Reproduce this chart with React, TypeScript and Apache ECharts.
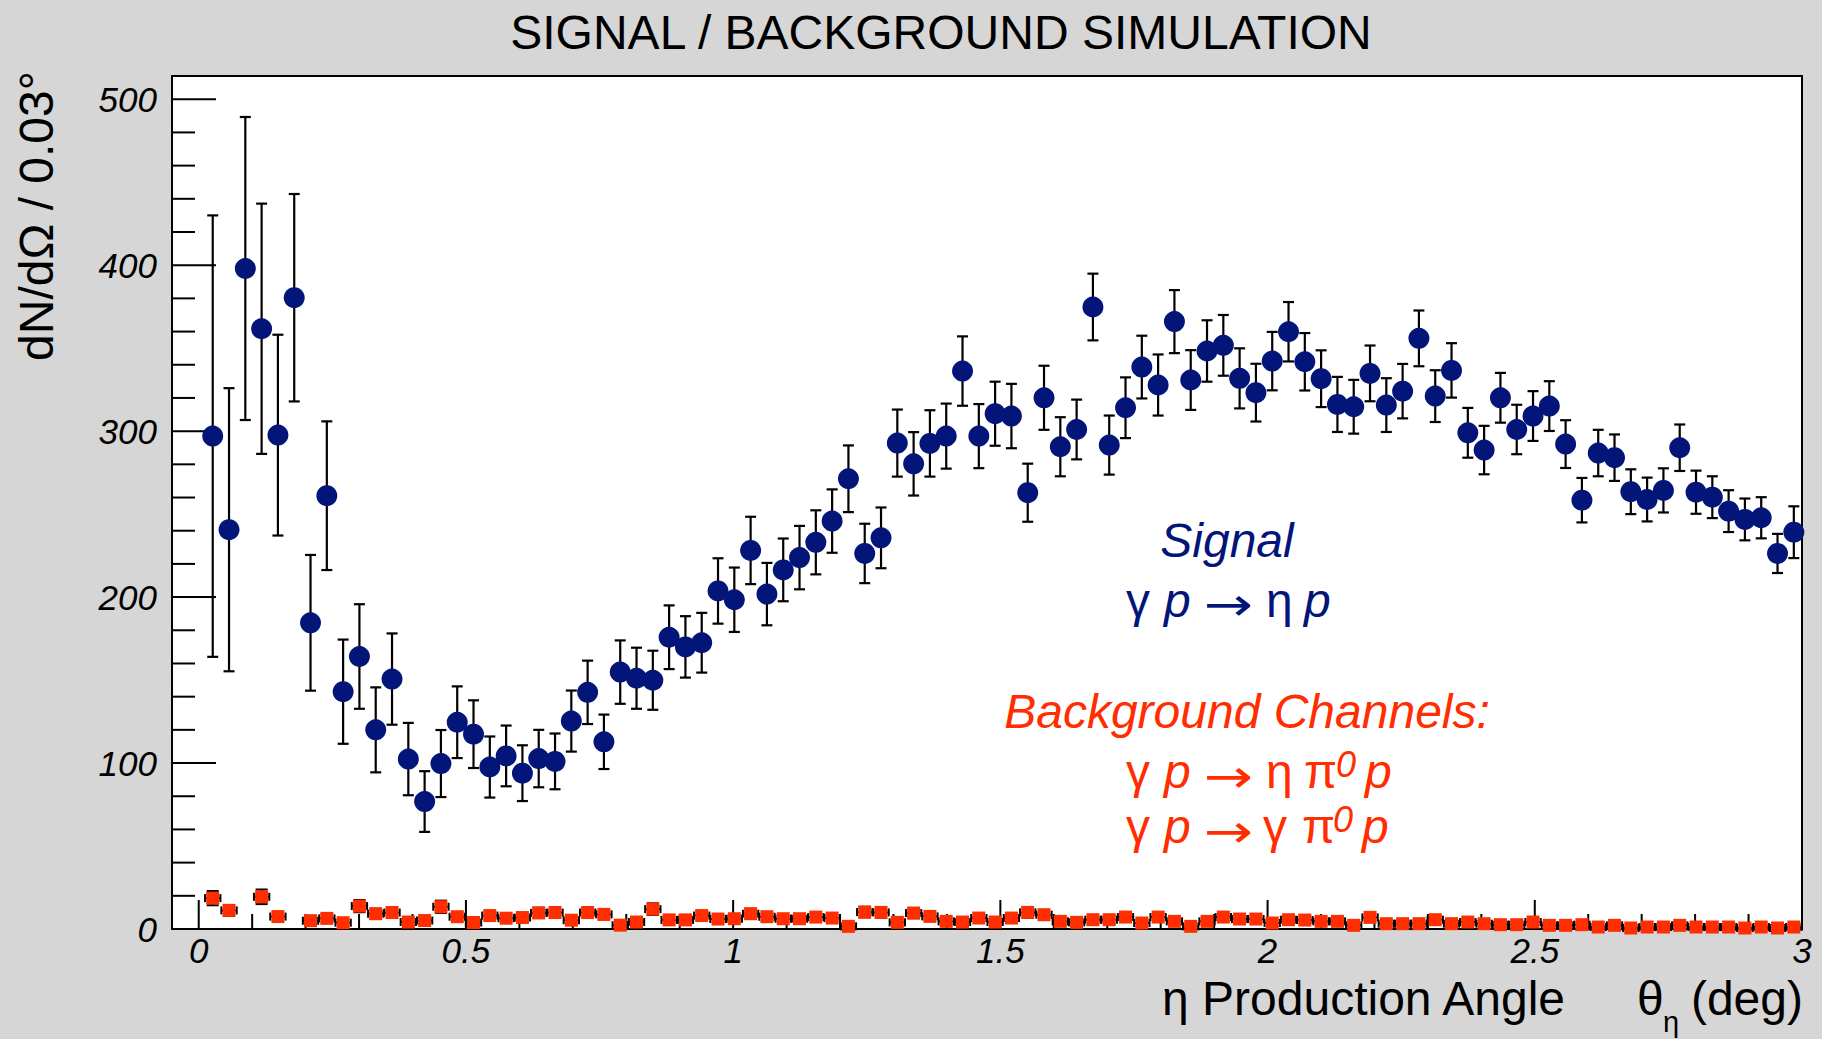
import React, { useEffect, useRef } from "react";
import * as echarts from "echarts";

// ---- axis ranges / bins ----
const X_MIN = -0.05;
const X_MAX = 3;
const Y_MIN = 0;
const Y_MAX = 514;
const BIN_START = 0.0262;
const BIN_WIDTH = 0.0305;

// ---- tick labels ----
const xTickLabels = [0, 0.5, 1, 1.5, 2, 2.5, 3];
const yTickLabels = [0, 100, 200, 300, 400, 500];
const xMinorTicks = [
  0.1, 0.2, 0.3, 0.4, 0.6, 0.7, 0.8, 0.9, 1.1, 1.2, 1.3, 1.4, 1.6, 1.7, 1.8, 1.9,
  2.1, 2.2, 2.3, 2.4, 2.6, 2.7, 2.8, 2.9,
];
const yMinorTicks = [
  20, 40, 60, 80, 120, 140, 160, 180, 220, 240, 260, 280, 320, 340, 360, 380,
  420, 440, 460, 480,
];

// ---- signal (gamma p -> eta p) ----
const signalValues = [
  297, 240.6, 398, 361.7, 297.6, 380.4, 184.5, 261.1, 143, 164.2,
  120, 150.6, 102.4, 76.8, 99.7, 124.6, 117.4, 97.6, 104.3, 93.9,
  102.7, 101, 125.3, 142.6, 112.8, 154.8, 151.1, 149.9, 175.8, 170,
  172.5, 203.7, 198.4, 228.1, 201.8, 216.4, 223.8, 233, 245.8, 271.3,
  226.3, 235.7, 292.8, 280.3, 292.6, 297, 336.2, 297, 310.5, 309.1,
  262.9, 320.1, 290.6, 301, 374.8, 291.6, 314.1, 338.6, 327.8, 366,
  330.8, 348.3, 351.7, 331.8, 323.2, 342.2, 359.9, 341.8, 331.6, 316.1,
  314.7, 334.8, 315.7, 324.1, 355.9, 321.1, 336.6, 299, 288.6, 320.1,
  301, 309.1, 315.1, 292.2, 258.4, 286.8, 284, 263.5, 258.8, 264.3,
  290, 263.2, 260.2, 251.8, 246.8, 247.8, 226.3, 239.1,
];
const signalErrors = [
  133, 85.3, 91.3, 75.4, 60.5, 62.5, 40.9, 44.8, 31.4, 31.5,
  25.6, 27.5, 21.8, 18.3, 20.2, 21.6, 20.4, 18.4, 18.3, 16.8,
  17.3, 16.8, 18.4, 19.1, 16.4, 19.1, 18.4, 17.8, 19.2, 18.5,
  18, 19.7, 19.4, 20.3, 18.8, 18.9, 19.1, 19.3, 19.1, 20.1,
  17.9, 18.3, 20.2, 19.1, 20, 19.6, 20.9, 19.3, 19.3, 19.4,
  17.5, 19.3, 17.8, 18, 20.1, 17.8, 18.3, 18.9, 18.4, 19,
  18, 18.5, 18.3, 18.1, 17.4, 17.6, 17.9, 17.3, 17.1, 16.6,
  16.2, 16.8, 16.2, 16.4, 16.8, 15.6, 16.4, 15, 14.6, 15,
  14.9, 15, 15, 14.4, 13.4, 14, 14, 13.5, 13.2, 13.3,
  14, 13, 12.6, 12.6, 12.6, 12.4, 11.8, 15.6,
];

// ---- background channels ----
const backgroundValues = [
  18.6, 11.2, null, 19.4, 7.5, null, 5.0, 6.4, 3.8, 13.8,
  9.2, 9.9, 4.2, 5.1, 13.4, 7.4, 3.9, 8.1, 6.5, 6.9,
  9.7, 9.9, 5.3, 9.9, 8.8, 2.3, 4.2, 12.0, 5.5, 5.5,
  8.1, 6.0, 6.2, 9.2, 7.4, 6.2, 6.2, 7.2, 6.6, 1.6,
  10.2, 10.0, 4.0, 9.6, 7.6, 4.6, 4.2, 6.6, 4.2, 6.6,
  10.0, 8.6, 4.6, 4.0, 5.6, 5.6, 7.2, 3.6, 7.2, 4.6,
  1.6, 4.6, 7.2, 6.0, 6.0, 3.6, 5.6, 5.4, 4.6, 4.6,
  2.2, 7.0, 3.2, 3.2, 3.2, 5.6, 3.2, 4.2, 3.2, 2.6,
  2.6, 4.2, 2.2, 2.2, 2.6, 1.2, 2.2, 0.6, 1.2, 1.2,
  2.2, 1.2, 1.2, 1.2, 0.6, 1.2, 0.6, 1.2,
];
const backgroundErrors = [
  4.3, 3.3, 0, 4.4, 2.7, 0, 2.2, 2.5, 1.9, 3.7,
  3.0, 3.1, 2.0, 2.3, 3.7, 2.7, 2.0, 2.8, 2.5, 2.6,
  3.1, 3.1, 2.3, 3.1, 3.0, 1.5, 2.0, 3.5, 2.3, 2.3,
  2.8, 2.4, 2.5, 3.0, 2.7, 2.5, 2.5, 2.7, 2.6, 1.3,
  3.2, 3.2, 2.0, 3.1, 2.8, 2.1, 2.0, 2.6, 2.0, 2.6,
  3.2, 2.9, 2.1, 2.0, 2.4, 2.4, 2.7, 1.9, 2.7, 2.1,
  1.3, 2.1, 2.7, 2.4, 2.4, 1.9, 2.4, 2.3, 2.1, 2.1,
  1.5, 2.6, 1.8, 1.8, 1.8, 2.4, 1.8, 2.0, 1.8, 1.6,
  1.6, 2.0, 1.5, 1.5, 1.6, 1.1, 1.5, 0.8, 1.1, 1.1,
  1.5, 1.1, 1.1, 1.1, 0.8, 1.1, 0.8, 1.1,
];

const FONT = '"Liberation Sans", Arial, Helvetica, sans-serif';
const ARROW_FONT = '"DejaVu Sans", sans-serif';
const BLUE = "#04157a";
const RED = "#ff2d00";

const binCenters = signalValues.map((_, i) => +(BIN_START + i * BIN_WIDTH).toFixed(4));

function txt(
  text: string,
  x: number,
  y: number,
  size: number,
  o: {
    fill?: string;
    italic?: boolean;
    align?: string;
    rotation?: number;
    family?: string;
    lineHeight?: number;
    scaleX?: number;
  } = {}
) {
  const align = o.align || "left";
  const style: any = {
    text,
    fontSize: size,
    fontFamily: o.family || FONT,
    fontStyle: o.italic ? "italic" : "normal",
    fill: o.fill || "#000",
    align,
    textAlign: align,
    verticalAlign: "middle",
    textVerticalAlign: "middle",
  };
  if (o.lineHeight) style.lineHeight = o.lineHeight;
  const el: any = {
    type: "text",
    x,
    y,
    rotation: o.rotation || 0,
    z: 100,
    silent: true,
    style,
  };
  if (o.scaleX) el.scaleX = o.scaleX;
  return el;
}

// middle y from baseline for Liberation Sans
const mid = (baseline: number, size: number) => baseline - 0.3465 * size;

function buildGraphic() {
  const g: any[] = [];
  g.push(txt("SIGNAL / BACKGROUND SIMULATION", 941, mid(49, 48), 48, { align: "center" }));
  g.push(txt("dN/dΩ / 0.03°", 36.4, 216, 48, { align: "center", rotation: Math.PI / 2 }));
  g.push(txt("η Production Angle", 1565, mid(1015, 48), 48, { align: "right" }));
  g.push(txt("θ", 1637, mid(1015, 48), 48));
  g.push(txt("η", 1663, mid(1032, 29), 29));
  g.push(txt("(deg)", 1803, mid(1015, 48), 48, { align: "right" }));

  const arrowOpts = (fill: string) => ({ fill, family: ARROW_FONT, lineHeight: 34, scaleX: 1.28 });

  // Signal annotation
  g.push(txt("Signal", 1227, mid(556.7, 48), 48, { align: "center", italic: true, fill: BLUE }));
  const l1 = mid(616.7, 48);
  g.push(txt("γ", 1126, l1, 48, { fill: BLUE }));
  g.push(txt("p", 1164, l1, 48, { fill: BLUE, italic: true }));
  g.push(txt("→", 1204, 604, 46, arrowOpts(BLUE)));
  g.push(txt("η", 1266, l1, 48, { fill: BLUE }));
  g.push(txt("p", 1304, l1, 48, { fill: BLUE, italic: true }));

  // Background annotation
  g.push(txt("Background Channels:", 1247, mid(728.3, 48), 48, { align: "center", italic: true, fill: RED }));
  const l2 = mid(788.3, 48);
  g.push(txt("γ", 1126, l2, 48, { fill: RED }));
  g.push(txt("p", 1164, l2, 48, { fill: RED, italic: true }));
  g.push(txt("→", 1204, 775.5, 46, arrowOpts(RED)));
  g.push(txt("η", 1266, l2, 48, { fill: RED }));
  g.push(txt("π", 1304, l2, 48, { fill: RED }));
  g.push(txt("0", 1336, mid(777, 36), 36, { fill: RED, italic: true, lineHeight: 30 }));
  g.push(txt("p", 1365, l2, 48, { fill: RED, italic: true }));
  const l3 = mid(843.3, 48);
  g.push(txt("γ", 1126, l3, 48, { fill: RED }));
  g.push(txt("p", 1164, l3, 48, { fill: RED, italic: true }));
  g.push(txt("→", 1204, 830.5, 46, arrowOpts(RED)));
  g.push(txt("γ", 1263, l3, 48, { fill: RED }));
  g.push(txt("π", 1302, l3, 48, { fill: RED }));
  g.push(txt("0", 1333, mid(832, 36), 36, { fill: RED, italic: true, lineHeight: 30 }));
  g.push(txt("p", 1362, l3, 48, { fill: RED, italic: true }));
  return g;
}

export default function App() {
  const ref = useRef<HTMLDivElement>(null);

  useEffect(() => {
    if (!ref.current) return;
    const chart = echarts.init(ref.current, undefined, { renderer: "svg" });

    const tickData: number[][] = [
      ...xTickLabels.map((v) => [v, 0]),
      ...xMinorTicks.map((v) => [v, 1]),
      ...yTickLabels.map((v) => [v, 2]),
      ...yMinorTicks.map((v) => [v, 3]),
    ];

    const signalErrData = binCenters.map((x, i) => [x, signalValues[i], signalErrors[i]]);
    const signalData = binCenters.map((x, i) => [x, signalValues[i]]);
    const bgErrData = binCenters
      .map((x, i) => [x, backgroundValues[i], backgroundErrors[i]])
      .filter((d) => d[1] !== null);
    const bgData = binCenters
      .map((x, i) => [x, backgroundValues[i]])
      .filter((d) => d[1] !== null);

    const halfW = BIN_WIDTH * 0.47;

    const option: any = {
      animation: false,
      backgroundColor: "#d6d6d6",
      grid: {
        left: 172,
        top: 76,
        width: 1630,
        height: 853,
        show: true,
        backgroundColor: "#ffffff",
        borderColor: "#000000",
        borderWidth: 2,
        containLabel: false,
      },
      xAxis: {
        type: "value",
        min: X_MIN,
        max: X_MAX,
        axisLine: { show: false },
        axisTick: { show: false },
        splitLine: { show: false },
        axisLabel: {
          customValues: xTickLabels,
          margin: 4,
          fontSize: 35,
          fontStyle: "italic",
          fontFamily: FONT,
          color: "#000",
          formatter: (v: number) => String(v),
        },
      },
      yAxis: {
        type: "value",
        min: Y_MIN,
        max: Y_MAX,
        axisLine: { show: false },
        axisTick: { show: false },
        splitLine: { show: false },
        axisLabel: {
          customValues: yTickLabels,
          margin: 15,
          fontSize: 35,
          fontStyle: "italic",
          fontFamily: FONT,
          color: "#000",
          formatter: (v: number) => String(v),
        },
      },
      graphic: buildGraphic(),
      series: [
        {
          type: "custom",
          name: "ticks",
          silent: true,
          z: 3,
          data: tickData,
          renderItem: (_p: any, api: any) => {
            const v = api.value(0);
            const k = api.value(1);
            if (k < 2) {
              const p = api.coord([v, 0]);
              const len = k === 0 ? 29 : 15;
              return {
                type: "line",
                shape: { x1: p[0], y1: p[1], x2: p[0], y2: p[1] - len },
                style: { stroke: "#000", lineWidth: 2 },
              };
            }
            const p = api.coord([X_MIN, v]);
            const len = k === 2 ? 44 : 23;
            return {
              type: "line",
              shape: { x1: p[0], y1: p[1], x2: p[0] + len, y2: p[1] },
              style: { stroke: "#000", lineWidth: 2 },
            };
          },
        },
        {
          type: "custom",
          name: "signal errors",
          silent: true,
          z: 4,
          data: signalErrData,
          renderItem: (_p: any, api: any) => {
            const x = api.value(0);
            const v = api.value(1);
            const e = api.value(2);
            const top = api.coord([x, v + e]);
            const bot = api.coord([x, v - e]);
            const cw = 5.5;
            const st = { stroke: "#000", lineWidth: 2.2 };
            return {
              type: "group",
              children: [
                { type: "line", shape: { x1: top[0], y1: top[1], x2: bot[0], y2: bot[1] }, style: st },
                { type: "line", shape: { x1: top[0] - cw, y1: top[1], x2: top[0] + cw, y2: top[1] }, style: st },
                { type: "line", shape: { x1: bot[0] - cw, y1: bot[1], x2: bot[0] + cw, y2: bot[1] }, style: st },
              ],
            };
          },
        },
        {
          type: "custom",
          name: "background errors",
          silent: true,
          z: 4,
          data: bgErrData,
          renderItem: (_p: any, api: any) => {
            const x = api.value(0);
            const v = api.value(1);
            const e = api.value(2);
            const top = api.coord([x, v + e]);
            const bot = api.coord([x, v - e]);
            const left = api.coord([x - halfW, v]);
            const right = api.coord([x + halfW, v]);
            const cw = 6;
            const ch = 4;
            const st = { stroke: "#000", lineWidth: 2 };
            return {
              type: "group",
              children: [
                { type: "line", shape: { x1: top[0], y1: top[1], x2: bot[0], y2: bot[1] }, style: st },
                { type: "line", shape: { x1: top[0] - cw, y1: top[1], x2: top[0] + cw, y2: top[1] }, style: st },
                { type: "line", shape: { x1: bot[0] - cw, y1: bot[1], x2: bot[0] + cw, y2: bot[1] }, style: st },
                { type: "line", shape: { x1: left[0], y1: left[1], x2: right[0], y2: right[1] }, style: st },
                { type: "line", shape: { x1: left[0], y1: left[1] - ch, x2: left[0], y2: left[1] + ch }, style: st },
                { type: "line", shape: { x1: right[0], y1: right[1] - ch, x2: right[0], y2: right[1] + ch }, style: st },
              ],
            };
          },
        },
        {
          type: "scatter",
          name: "Signal",
          data: signalData,
          symbol: "circle",
          symbolSize: 21,
          itemStyle: { color: BLUE, opacity: 1 },
          z: 5,
          clip: false,
          silent: true,
        },
        {
          type: "scatter",
          name: "Background",
          data: bgData,
          symbol: "rect",
          symbolSize: 13,
          itemStyle: { color: RED, opacity: 1 },
          z: 5,
          clip: false,
          silent: true,
        },
      ],
    };

    chart.setOption(option);
    return () => chart.dispose();
  }, []);

  return (
    <div
      ref={ref}
      style={{ position: "fixed", left: 0, top: 0, width: 1822, height: 1039 }}
    />
  );
}
